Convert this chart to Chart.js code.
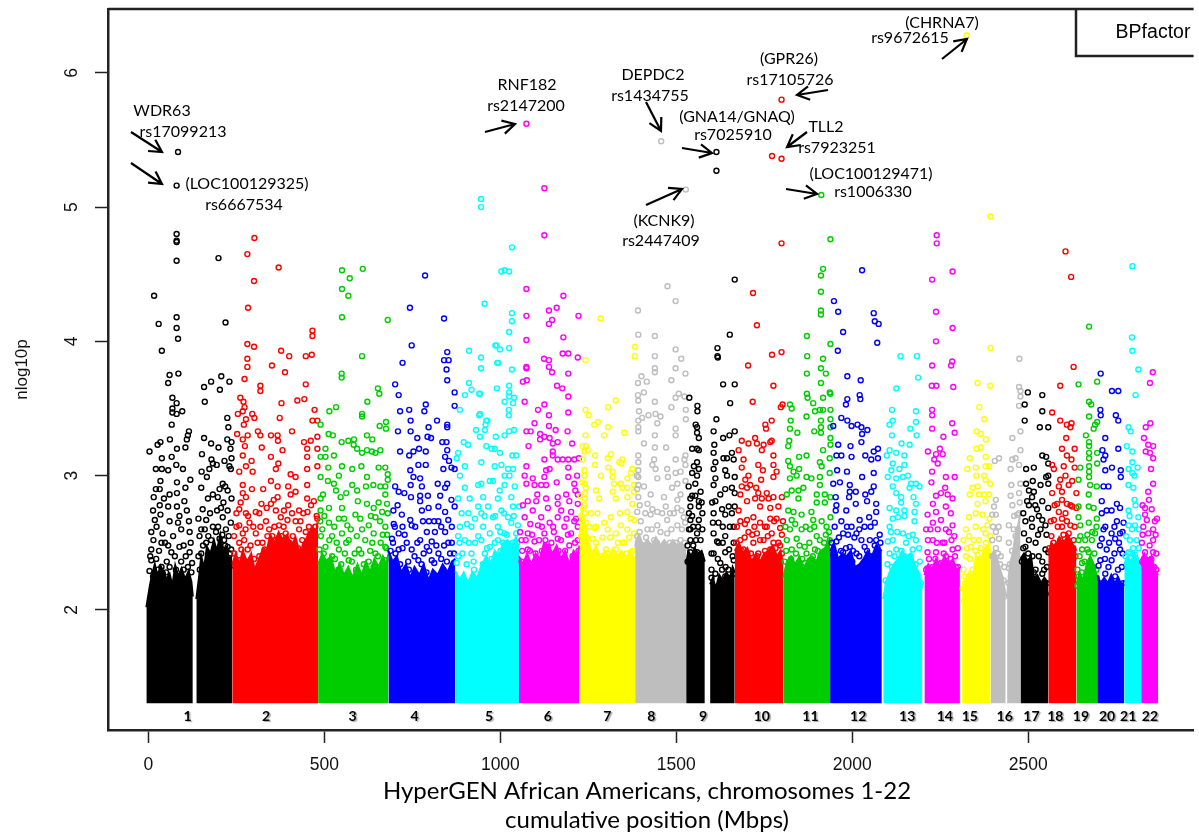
<!DOCTYPE html>
<html>
<head>
<meta charset="utf-8">
<title>HyperGEN BPfactor</title>
<script src="https://cdn.jsdelivr.net/npm/chart.js@4/dist/chart.umd.js"></script>
<style>
	html, body { margin: 0; padding: 0; background: #fff; overflow: hidden; }
	canvas { display: block; }
</style>
</head>
<body>
<canvas id="grafica" width="1199" height="836"></canvas>
<script>
var tickX = [0, 500, 1000, 1500, 2000, 2500];
var tickY = [2, 3, 4, 5, 6];
var chromNames = ["1","2","3","4","5","6","7","8","9","10","11","12","13","14","15","16","17","18","19","20","21","22"];
var chromCenters = [111,334,580,756,968,1135,1304,1429,1576,1743,1881,2017,2156,2263,2334,2433,2509,2577,2650,2724,2784,2846];
var chromColors = ["#000000","#ff0000","#00cd00","#0000ff","#00ffff","#ff00ff","#ffff00","#bebebe"];
var floorP = 1.305;

// solid lower mass of each chromosome: [position, height reached by the packed points]
var body1a = [[-6,2.02],[4,2.18],[10,2.26],[18,2.34],[26,2.25],[34,2.33],[42,2.29],[50,2.23],[60,2.27],[68,2.18],[76,2.33],[84,2.25],[94,2.31],[104,2.23],[114,2.29],[122,2.21],[126,2.1]];
var body1b = [[136,2.08],[144,2.25],[150,2.4],[158,2.31],[166,2.47],[176,2.42],[186,2.52],[194,2.44],[204,2.56],[212,2.44],[222,2.47],[230,2.37],[238,2.41]];
var body2 = [[238,2.34],[248,2.42],[258,2.34],[268,2.44],[280,2.36],[292,2.42],[302,2.3],[314,2.38],[326,2.46],[336,2.44],[346,2.56],[358,2.5],[370,2.58],[382,2.52],[394,2.56],[406,2.48],[418,2.54],[430,2.42],[442,2.5],[454,2.56],[466,2.62],[476,2.58],[482,2.68]];
var body3 = [[482,2.34],[494,2.42],[506,2.36],[518,2.4],[530,2.28],[544,2.34],[556,2.26],[568,2.32],[580,2.24],[594,2.34],[606,2.26],[618,2.36],[630,2.28],[642,2.38],[654,2.32],[666,2.4],[676,2.34],[682,2.42]];
var body4 = [[682,2.44],[694,2.36],[706,2.4],[718,2.28],[732,2.34],[744,2.24],[756,2.32],[770,2.26],[782,2.34],[796,2.22],[808,2.3],[822,2.26],[836,2.34],[850,2.28],[862,2.36],[872,2.38]];
var body5 = [[872,2.29],[884,2.22],[896,2.28],[908,2.2],[920,2.28],[934,2.24],[948,2.34],[960,2.4],[972,2.34],[984,2.44],[996,2.4],[1008,2.5],[1020,2.52],[1032,2.48],[1044,2.54],[1053,2.46]];
var body6 = [[1053,2.4],[1064,2.34],[1076,2.42],[1088,2.34],[1100,2.42],[1112,2.38],[1124,2.5],[1136,2.48],[1148,2.42],[1160,2.48],[1172,2.38],[1184,2.44],[1196,2.34],[1208,2.44],[1218,2.4],[1225,2.48]];
var body7 = [[1225,2.54],[1232,2.76],[1240,2.64],[1250,2.52],[1260,2.42],[1272,2.48],[1284,2.38],[1296,2.44],[1308,2.4],[1320,2.46],[1332,2.4],[1344,2.44],[1356,2.38],[1368,2.44],[1383,2.38]];
var body8 = [[1383,2.5],[1394,2.56],[1406,2.48],[1418,2.52],[1430,2.48],[1442,2.54],[1454,2.48],[1466,2.52],[1478,2.47],[1490,2.52],[1502,2.48],[1514,2.5],[1528,2.44]];
var body9a = [[1528,2.34],[1534,2.44],[1542,2.4],[1552,2.46],[1562,2.42],[1572,2.44],[1581,2.36]];
var body9b = [[1596,2.19],[1604,2.24],[1612,2.16],[1622,2.26],[1632,2.22],[1642,2.28],[1652,2.24],[1660,2.32],[1666,2.28]];
var body10 = [[1666,2.44],[1678,2.5],[1690,2.42],[1702,2.46],[1714,2.36],[1726,2.42],[1738,2.36],[1750,2.42],[1762,2.44],[1774,2.48],[1786,2.4],[1796,2.44],[1804,2.34]];
var body11 = [[1804,2.24],[1814,2.36],[1826,2.4],[1838,2.34],[1850,2.4],[1862,2.3],[1874,2.38],[1886,2.4],[1898,2.36],[1910,2.44],[1922,2.46],[1932,2.5],[1937,2.54]];
var body12 = [[1937,2.44],[1948,2.5],[1960,2.38],[1972,2.42],[1984,2.4],[1996,2.44],[2008,2.32],[2020,2.34],[2032,2.38],[2044,2.44],[2056,2.4],[2068,2.48],[2084,2.44]];
var body13 = [[2088,2.08],[2096,2.2],[2106,2.28],[2118,2.34],[2130,2.38],[2142,2.44],[2154,2.38],[2166,2.42],[2178,2.34],[2188,2.28],[2199,2.16]];
var body14 = [[2205,2.26],[2216,2.34],[2226,2.3],[2238,2.38],[2250,2.32],[2262,2.4],[2274,2.34],[2286,2.38],[2298,2.28],[2306,2.32]];
var body15 = [[2312,2.14],[2322,2.22],[2332,2.28],[2342,2.24],[2352,2.4],[2364,2.36],[2376,2.46],[2386,2.48],[2393,2.5]];
var body16a = [[2393,2.38],[2402,2.44],[2412,2.38],[2420,2.3],[2428,2.24],[2436,2.1]];
var body16b = [[2440,2.1],[2448,2.34],[2456,2.42],[2464,2.56],[2472,2.64],[2478,2.72]];
var body17 = [[2478,2.38],[2488,2.42],[2498,2.36],[2508,2.4],[2516,2.24],[2526,2.26],[2536,2.2],[2546,2.24],[2557,2.2]];
var body18 = [[2557,2.42],[2566,2.5],[2576,2.46],[2588,2.54],[2600,2.48],[2612,2.56],[2624,2.5],[2637,2.44]];
var body19 = [[2637,2.19],[2646,2.28],[2656,2.22],[2666,2.34],[2676,2.4],[2686,2.34],[2696,2.24]];
var body20 = [[2696,2.26],[2706,2.2],[2716,2.24],[2726,2.2],[2736,2.26],[2746,2.2],[2756,2.24],[2766,2.18],[2773,2.22]];
var body21 = [[2773,2.34],[2782,2.4],[2792,2.36],[2802,2.42],[2812,2.36],[2821,2.3]];
var body22 = [[2821,2.38],[2830,2.42],[2840,2.38],[2850,2.4],[2860,2.3],[2869,2.26]];

// individual SNPs: [position, nlog10p]
var chr1 = [[84,5.41],[80,5.16],[80,4.8],[80,4.75],[80,4.74],[80,4.6],[16,4.34],[29,4.13],[80,4.18],[80,4.1],[84,4.02],[38,3.93],[199,4.62],[219,4.14],
[60,3.75],[85,3.76],[56,3.69],[68,3.58],[80,3.54],[68,3.5],[96,3.48],[68,3.47],[80,3.46],[66,3.38],[115,3.33],[112,3.3],[61,3.27],[34,3.25],[26,3.23],[109,3.27],[105,3.21],[81,3.2],[3,3.18],[38,3.13],[66,3.14],[21,3.05],[38,3.05],[79,3.08],[56,3.04],[98,3.05],[119,2.97],[34,2.96],[81,2.95],[21,2.9],[32,2.9],[105,2.91],[81,2.87],[60,2.86],[15,2.84],[44,2.83],[102,2.81],[32,2.78],[56,2.77],[81,2.77],[109,2.74],[13,2.74],[34,2.71],[88,2.7],[18,2.67],[60,2.66],[115,2.66],[84,2.65],[23,2.62],[8,2.58],[40,2.57],[93,2.6],[117,2.58],[37,2.5],[8,2.45],[117,2.43],[88,2.47],[56,2.48],[65,2.43],[8,2.37],[37,2.32],[60,2.32],[93,2.36],[112,2.32],[3,2.29],[13,2.25],[41,2.27],
[160,3.55],[158,3.66],[178,3.7],[203,3.64],[207,3.74],[230,3.7],[224,3.43],[227,3.36],[158,3.28],[178,3.24],[199,3.21],[224,3.27],[236,3.25],[233,3.2],[152,3.16],[179,3.12],[183,3.09],[216,3.11],[236,3.13],[234,3.05],[230,3.07],[194,3.08],[173,3.05],[151,3.03],[166,2.99],[150,2.91],[211,2.94],[202,2.9],[183,2.86],[197,2.84],[225,2.89],[236,2.83],[169,2.83],[154,2.75],[206,2.76],[225,2.74],[164,2.67],[211,2.69],[234,2.65],[150,2.6],[183,2.62],[220,2.6],[164,2.5],[202,2.53],[225,2.47],[150,2.42],[187,2.45],[235,2.45],[173,2.38],[211,2.37],[234,2.33],
[5,2.4],[14,2.52],[22,2.38],[30,2.44],[47,2.5],[52,2.36],[70,2.55],[75,2.4],[100,2.48],[106,2.4],[120,2.5],[124,2.35],[27,2.3],[50,2.28],[78,2.3],[100,2.3],[122,2.28],[142,2.4],[145,2.55],[155,2.48],[160,2.6],[170,2.55],[178,2.52],[192,2.58],[198,2.62],[215,2.52],[218,2.48],[228,2.55],[232,2.42],[142,2.68],[175,2.72],[195,2.74],[213,2.8],[218,2.92],[146,2.3],[210,2.56]];
var chr2 = [[301,4.77],[281,4.65],[370,4.55],[300,4.45],[283,4.25],[466,4.08],[466,4.04],[281,3.98],[300,3.96],[377,3.93],[400,3.89],[447,3.89],[464,3.9],[281,3.87],[351,3.82],[281,3.81],
[273,3.72],[318,3.67],[318,3.63],[447,3.68],[388,3.77],[423,3.56],[443,3.57],[378,3.54],[261,3.58],[270,3.55],[273,3.51],[268,3.48],[254,3.46],[295,3.46],[301,3.43],[373,3.43],[472,3.49],[277,3.42],[466,3.41],[480,3.41],[271,3.38],[408,3.33],[252,3.31],[311,3.33],[318,3.3],[348,3.3],[367,3.3],[368,3.26],[282,3.3],[268,3.27],[442,3.25],[461,3.26],[480,3.29],[322,3.21],[274,3.22],[381,3.19],[451,3.2],[480,3.2],[348,3.14],[268,3.15],[451,3.14],[293,3.11],[369,3.09],[451,3.05],[277,3.07],[258,3.03],[296,3.03],[362,3.05],[480,3.07],[404,3.01],[418,2.99],[348,2.96],[268,2.93],[451,2.93],[326,2.9],[367,2.92],[397,2.92],[294,2.9],[268,2.87],[418,2.88],[367,2.84],[277,2.84],[404,2.86],[321,2.79],[348,2.79],[397,2.78],[451,2.83],[428,2.74],[258,2.75],[470,2.81],[362,2.74],[277,2.72],[305,2.73],[376,2.69],[452,2.73],[480,2.68],[334,2.66],[395,2.67],[418,2.66],[258,2.63],[287,2.65],[371,2.63],[456,2.62],[343,2.6],[428,2.6],[268,2.57],[305,2.57],[390,2.57],[466,2.57],[258,2.5],[324,2.5],[362,2.52],[437,2.52],[282,2.45],[315,2.4],[418,2.45],[258,2.37],[334,2.37],[451,2.4],
[243,2.55],[250,2.62],[264,2.45],[272,2.52],[276,2.6],[290,2.48],[298,2.62],[310,2.5],[318,2.62],[330,2.45],[338,2.55],[352,2.55],[358,2.62],[366,2.48],[378,2.55],[384,2.62],[400,2.5],[410,2.55],[425,2.46],[432,2.66],[444,2.48],[447,2.58],[460,2.5],[474,2.62],[478,2.7],[250,2.72],[262,2.8],[283,2.7],[315,2.72],[336,2.76],[356,2.82],[385,2.74],[408,2.72],[440,2.72],[462,2.78],[244,2.42],[300,2.38],[472,2.56],[290,2.36],[352,2.46]];
var chr3 = [[550,4.53],[609,4.54],[572,4.47],[550,4.39],[568,4.34],[550,4.18],[680,4.16],[607,3.89],
[549,3.76],[549,3.73],[652,3.65],[656,3.61],[622,3.55],[533,3.51],[514,3.48],[607,3.46],[607,3.44],[657,3.37],[675,3.4],[675,3.35],[489,3.38],[512,3.31],[524,3.3],[621,3.3],[636,3.27],[549,3.25],[568,3.26],[584,3.27],[583,3.23],[593,3.2],[659,3.19],[621,3.19],[607,3.17],[635,3.18],[645,3.17],[503,3.2],[489,3.14],[527,3.15],[503,3.14],[511,3.06],[550,3.07],[605,3.07],[579,3.05],[654,3.06],[673,3.06],[489,2.99],[541,3.0],[621,2.99],[680,3.01],[510,2.96],[680,2.97],[527,2.94],[579,2.93],[618,2.92],[639,2.93],[659,2.92],[673,2.92],[593,2.89],[533,2.89],[496,2.86],[546,2.84],[562,2.87],[673,2.86],[489,2.83],[595,2.81],[654,2.8],[678,2.79],[621,2.79],[550,2.76],[513,2.76],[640,2.76],[489,2.74],[664,2.73],[588,2.71],[541,2.68],[645,2.69],[680,2.72],[513,2.65],[565,2.63],[626,2.63],[673,2.62],[494,2.6],[550,2.57],[607,2.6],[640,2.57],[522,2.55],[569,2.52],[616,2.52],[673,2.47],[503,2.47],[541,2.45],[598,2.45],[645,2.42],[522,2.4],[569,2.37],[626,2.36],[673,2.37],
[486,2.45],[490,2.55],[498,2.42],[510,2.36],[514,2.52],[530,2.38],[535,2.5],[548,2.34],[558,2.42],[562,2.5],[578,2.36],[586,2.42],[592,2.55],[605,2.42],[612,2.34],[630,2.44],[636,2.5],[652,2.4],[660,2.5],[666,2.56],[676,2.46],[488,2.66],[500,2.7],[528,2.62],[556,2.68],[575,2.6],[602,2.68],[632,2.7],[658,2.66],[678,2.56],[498,2.32],[540,2.3],[590,2.3],[640,2.32]];
var chr4 = [[786,4.49],[743,4.25],[840,4.17],[748,3.97],[849,3.92],[840,3.86],[853,3.86],[722,3.84],[847,3.79],
[849,3.71],[701,3.68],[870,3.62],[711,3.6],[870,3.52],[741,3.49],[715,3.48],[788,3.53],[784,3.48],[745,3.41],[796,3.36],[820,3.41],[849,3.38],[849,3.36],[709,3.33],[745,3.33],[764,3.28],[793,3.29],[803,3.28],[835,3.25],[847,3.25],[715,3.18],[753,3.18],[769,3.2],[788,3.18],[741,3.15],[849,3.19],[843,3.14],[854,3.11],[767,3.08],[788,3.08],[861,3.06],[838,3.05],[870,3.05],[744,3.04],[753,2.99],[772,2.98],[745,2.93],[777,2.92],[822,2.94],[849,2.94],[701,2.92],[711,2.88],[727,2.87],[843,2.91],[829,2.85],[746,2.84],[772,2.85],[794,2.85],[861,2.82],[708,2.78],[772,2.81],[824,2.77],[870,2.77],[777,2.74],[796,2.76],[696,2.74],[843,2.73],[720,2.71],[744,2.67],[797,2.66],[697,2.64],[824,2.66],[852,2.67],[711,2.57],[748,2.63],[843,2.58],[791,2.58],[814,2.58],[734,2.5],[772,2.52],[805,2.51],[852,2.5],[692,2.53],[711,2.45],[748,2.45],[791,2.47],[824,2.42],[857,2.42],[767,2.37],[805,2.37],
[688,2.44],[695,2.5],[702,2.42],[715,2.34],[722,2.46],[728,2.56],[738,2.36],[756,2.4],[764,2.5],[776,2.34],[782,2.42],[798,2.44],[812,2.35],[818,2.48],[832,2.38],[840,2.48],[848,2.36],[862,2.5],[868,2.42],[700,2.62],[722,2.62],[758,2.62],[780,2.66],[812,2.66],[832,2.62],[862,2.62],[740,2.3],[790,2.28],[838,2.3]];
var chr5 = [[945,5.06],[945,5.0],[955,4.28],[911,3.93],[945,3.88],[986,3.97],[991,3.84],[945,3.8],[1033,4.7],[1003,4.52],[1012,4.53],[1025,4.52],[1033,4.21],[1033,4.15],[1025,4.07],[989,3.97],[999,3.94],[1025,3.95],[994,3.84],[1033,3.79],
[990,3.65],[1025,3.67],[1025,3.62],[1025,3.59],[1039,3.58],[1012,3.55],[1036,3.54],[1024,3.49],[1024,3.45],[942,3.61],[942,3.46],[963,3.41],[958,3.38],[956,3.34],[942,3.29],[987,3.29],[1012,3.3],[1025,3.33],[1039,3.34],[960,3.22],[975,3.2],[984,3.2],[999,3.17],[1034,3.15],[1045,3.15],[946,3.1],[984,3.07],[1003,3.08],[1022,3.05],[1036,3.05],[1012,3.0],[1026,3.0],[1041,2.92],[946,2.94],[979,2.96],[1012,2.93],[998,2.89],[951,2.84],[1031,2.84],[993,2.83],[965,2.77],[1036,2.77],[1003,2.74],[1053,2.77],[946,2.72],[979,2.69],[1022,2.69],[1050,2.63],[951,2.62],[993,2.62],[1031,2.65],[970,2.57],[1012,2.57],[1045,2.57],[946,2.52],[993,2.52],[1026,2.48],[970,2.47],
[911,3.69],[918,3.64],[940,3.61],[899,3.6],[885,3.49],[940,3.45],[960,3.41],[931,3.34],[896,3.25],[908,3.23],[880,3.17],[876,3.13],[899,3.07],[885,3.0],[899,2.91],[937,2.93],[970,2.96],[880,2.83],[913,2.83],[937,2.77],[909,2.72],[885,2.62],[918,2.62],[899,2.52],[937,2.55],[880,2.4],[918,2.42],[956,2.42],
[876,2.35],[884,2.5],[892,2.42],[904,2.34],[910,2.5],[924,2.36],[928,2.5],[950,2.34],[962,2.46],[975,2.38],[984,2.5],[1000,2.44],[1008,2.5],[1018,2.56],[1035,2.5],[1040,2.46],[1048,2.5],[890,2.72],[905,2.64],[928,2.68],[955,2.7],[985,2.7],[1010,2.72],[1038,2.7],[880,2.55],[1000,2.58],[925,2.3]];
var chr6 = [[1074,5.62],[1125,5.14],[1125,4.79],[1074,4.39],[1179,4.34],[1160,4.25],[1138,4.23],[1074,4.19],[1222,4.19],[1147,4.16],[1138,4.13],[1074,4.01],[1179,4.03],[1177,3.91],[1193,3.91],[1220,3.88],[1124,3.87],[1138,3.86],[1074,3.81],[1074,3.8],[1138,3.81],
[1147,3.77],[1193,3.76],[1064,3.7],[1075,3.71],[1161,3.67],[1176,3.65],[1193,3.59],[1069,3.55],[1125,3.53],[1107,3.49],[1193,3.47],[1138,3.45],[1097,3.39],[1138,3.37],[1157,3.34],[1074,3.33],[1086,3.33],[1191,3.33],[1113,3.31],[1125,3.29],[1140,3.28],[1113,3.27],[1149,3.24],[1163,3.25],[1204,3.24],[1080,3.22],[1149,3.18],[1149,3.15],[1125,3.12],[1223,3.13],[1163,3.12],[1177,3.12],[1193,3.12],[1210,3.12],[1074,3.07],[1193,3.06],[1130,3.04],[1140,3.05],[1069,3.0],[1092,2.98],[1125,2.99],[1218,3.0],[1193,2.99],[1160,2.95],[1074,2.94],[1097,2.93],[1116,2.93],[1130,2.93],[1210,2.94],[1213,2.89],[1220,2.86],[1105,2.86],[1163,2.84],[1187,2.86],[1130,2.83],[1078,2.81],[1102,2.81],[1196,2.81],[1163,2.79],[1220,2.79],[1064,2.78],[1092,2.74],[1135,2.76],[1173,2.74],[1201,2.73],[1069,2.69],[1116,2.69],[1163,2.69],[1215,2.68],[1107,2.63],[1140,2.65],[1182,2.62],[1220,2.62],[1078,2.57],[1125,2.57],[1201,2.57],[1163,2.53],[1060,2.52],[1097,2.51],[1220,2.52],[1196,2.48],[1135,2.47],[1078,2.45],
[1056,2.58],[1062,2.44],[1072,2.52],[1084,2.44],[1090,2.56],[1100,2.42],[1110,2.52],[1118,2.44],[1128,2.52],[1145,2.5],[1152,2.58],[1165,2.44],[1172,2.52],[1184,2.44],[1192,2.56],[1205,2.4],[1212,2.5],[1222,2.44],[1085,2.64],[1118,2.62],[1150,2.62],[1188,2.68],[1210,2.66],[1060,2.36],[1115,2.36],[1175,2.36]];
var chr7 = [[1285,4.17],[1383,3.96],[1382,3.89],[1242,3.86],[1242,3.49],[1251,3.45],[1306,3.51],[1328,3.56],[1277,3.4],[1267,3.38],[1306,3.36],[1352,3.32],[1295,3.3],[1242,3.3],[1234,3.22],[1243,3.22],[1239,3.18],[1248,3.19],[1314,3.16],[1269,3.15],[1305,3.13],[1347,3.12],[1338,3.1],[1234,3.12],[1269,3.08],[1344,3.09],[1306,3.06],[1375,3.05],[1239,3.04],[1319,3.03],[1239,3.0],[1371,3.02],[1286,3.0],[1319,2.99],[1361,2.98],[1240,2.94],[1342,2.94],[1323,2.94],[1380,2.93],[1243,2.91],[1361,2.91],[1347,2.91],[1272,2.89],[1240,2.87],[1319,2.88],[1380,2.88],[1328,2.83],[1281,2.83],[1361,2.84],[1240,2.83],[1375,2.79],[1239,2.78],[1257,2.72],[1276,2.72],[1314,2.69],[1361,2.73],[1239,2.72],[1380,2.67],[1295,2.65],[1342,2.63],[1243,2.65],[1267,2.61],[1361,2.6],[1328,2.57],[1239,2.57],[1380,2.57],[1262,2.53],[1347,2.5],[1234,2.5],[1328,2.45],[1371,2.43],[1300,2.45],[1257,2.4],[1352,2.37],
[1230,2.7],[1236,2.62],[1246,2.54],[1252,2.62],[1262,2.42],[1272,2.5],[1284,2.4],[1290,2.54],[1303,2.42],[1312,2.54],[1322,2.42],[1334,2.5],[1338,2.4],[1352,2.5],[1358,2.42],[1366,2.54],[1376,2.44],[1230,2.55],[1228,2.85],[1232,2.95],[1236,2.76],[1272,2.62],[1305,2.6],[1340,2.72],[1370,2.68],[1295,2.36]];
var chr8 = [[1457,5.49],[1527,5.13],[1475,4.41],[1498,4.3],[1391,4.23],[1392,4.05],[1439,4.04],[1498,3.94],[1439,3.89],[1514,3.87],[1439,3.8],[1498,3.8],
[1401,3.74],[1391,3.69],[1416,3.7],[1439,3.77],[1486,3.71],[1526,3.76],[1391,3.6],[1408,3.62],[1392,3.56],[1507,3.61],[1498,3.58],[1523,3.59],[1439,3.55],[1486,3.51],[1527,3.49],[1394,3.48],[1421,3.45],[1441,3.46],[1455,3.44],[1527,3.42],[1392,3.41],[1403,3.43],[1446,3.39],[1392,3.36],[1392,3.33],[1498,3.35],[1498,3.3],[1439,3.3],[1408,3.24],[1439,3.21],[1471,3.21],[1392,3.15],[1392,3.1],[1437,3.12],[1498,3.12],[1526,3.15],[1523,3.12],[1432,3.08],[1526,3.08],[1441,3.05],[1392,3.04],[1474,3.05],[1498,3.02],[1512,3.03],[1392,2.99],[1446,2.98],[1476,2.99],[1526,2.96],[1392,2.93],[1503,2.94],[1408,2.92],[1488,2.91],[1512,2.86],[1427,2.86],[1392,2.84],[1465,2.84],[1503,2.82],[1418,2.79],[1470,2.77],[1503,2.76],[1446,2.73],[1389,2.73],[1493,2.72],[1427,2.71],[1521,2.69],[1474,2.67],[1399,2.66],[1446,2.63],[1503,2.63],[1418,2.6],[1474,2.57],[1389,2.55],[1437,2.52],[1512,2.52],[1399,2.45],[1470,2.46],[1446,2.42],[1503,2.42],
[1390,2.48],[1396,2.58],[1408,2.48],[1414,2.54],[1426,2.45],[1430,2.6],[1445,2.5],[1455,2.58],[1462,2.45],[1482,2.5],[1486,2.6],[1498,2.5],[1510,2.46],[1516,2.6],[1524,2.5],[1389,2.9],[1388,3.0],[1396,2.78],[1412,2.72],[1432,2.75],[1460,2.72],[1482,2.72],[1515,2.74],[1525,2.65]];
var chr9 = [[1614,5.41],[1614,5.27],[1666,4.46],[1652,4.05],[1617,3.95],[1617,3.89],[1618,3.88],[1633,3.68],[1666,3.68],[1653,3.54],[1537,3.58],[1560,3.52],[1560,3.48],[1614,3.42],[1555,3.38],[1559,3.36],[1559,3.32],[1564,3.28],[1606,3.33],[1666,3.33],[1633,3.28],[1651,3.3],[1608,3.23],[1545,3.2],[1559,3.2],[1564,3.19],[1606,3.17],[1658,3.17],[1634,3.13],[1644,3.13],[1663,3.12],[1611,3.1],[1559,3.1],[1550,3.07],[1564,3.05],[1606,3.05],[1639,3.04],[1545,3.02],[1559,3.0],[1611,2.98],[1644,3.0],[1666,2.99],[1535,2.92],[1554,2.94],[1606,2.93],[1639,2.9],[1658,2.91],[1569,2.88],[1540,2.83],[1554,2.85],[1625,2.86],[1666,2.87],[1564,2.81],[1611,2.81],[1649,2.77],[1540,2.77],[1564,2.77],[1606,2.72],[1666,2.77],[1639,2.71],[1540,2.67],[1564,2.67],[1620,2.65],[1663,2.62],[1540,2.6],[1559,2.57],[1606,2.57],[1639,2.55],[1540,2.52],[1569,2.52],[1616,2.51],[1663,2.5],[1540,2.43],[1559,2.43],[1606,2.42],[1639,2.43],[1625,2.35],[1663,2.37],[1550,2.37],[1611,2.27],[1639,2.25],[1663,2.27],
[1532,2.36],[1532,2.48],[1536,2.6],[1536,2.72],[1545,2.7],[1548,2.62],[1548,2.48],[1556,2.52],[1562,2.62],[1570,2.4],[1574,2.6],[1574,2.72],[1545,2.85],[1572,2.8],[1600,2.3],[1600,2.42],[1604,2.65],[1618,2.38],[1620,2.5],[1630,2.3],[1632,2.5],[1632,2.62],[1648,2.3],[1650,2.45],[1652,2.62],[1660,2.4],[1602,2.8],[1630,2.75],[1658,2.72],[1640,2.32],[1600,2.24],[1655,2.18]];
var chr10 = [[1799,5.8],[1772,5.38],[1799,5.36],[1799,4.73],[1718,4.36],[1729,4.12],[1799,3.92],[1772,3.9],[1704,3.82],
[1776,3.67],[1717,3.55],[1797,3.51],[1802,3.53],[1771,3.41],[1755,3.35],[1753,3.38],[1677,3.19],[1686,3.26],[1705,3.24],[1724,3.28],[1729,3.24],[1748,3.23],[1771,3.26],[1767,3.25],[1743,3.19],[1691,3.12],[1776,3.15],[1686,3.06],[1733,3.08],[1746,3.04],[1776,3.08],[1785,3.03],[1705,3.0],[1696,2.97],[1741,2.97],[1710,2.93],[1686,2.92],[1776,2.99],[1701,2.91],[1727,2.91],[1733,2.87],[1757,2.87],[1776,2.84],[1800,2.84],[1724,2.83],[1743,2.83],[1762,2.83],[1682,2.86],[1701,2.81],[1738,2.77],[1767,2.76],[1790,2.77],[1677,2.74],[1719,2.69],[1682,2.66],[1701,2.67],[1738,2.65],[1767,2.68],[1785,2.68],[1803,2.66],[1757,2.62],[1705,2.58],[1729,2.57],[1771,2.57],[1795,2.61],[1682,2.52],[1748,2.52],[1790,2.5],[1719,2.5],[1691,2.45],[1767,2.45],[1733,2.42],
[1670,2.5],[1675,2.42],[1686,2.44],[1694,2.54],[1702,2.42],[1712,2.42],[1716,2.56],[1730,2.4],[1738,2.52],[1752,2.44],[1760,2.55],[1776,2.5],[1782,2.46],[1795,2.48],[1800,2.42],[1672,2.62],[1695,2.64],[1722,2.62],[1752,2.62],[1778,2.66],[1800,2.56],[1735,2.35]];
var chr11 = [[1912,5.09],[1938,4.76],[1917,4.54],[1911,4.49],[1911,4.37],[1911,4.23],[1911,4.2],[1871,4.04],[1938,3.98],[1872,3.89],[1917,3.87],[1911,3.8],[1871,3.76],[1925,3.76],[1911,3.69],[1871,3.61],[1873,3.58],[1936,3.62],[1938,3.61],[1889,3.54],[1917,3.58],[1823,3.53],[1828,3.5],[1908,3.49],[1917,3.49],[1894,3.48],[1938,3.49],[1870,3.44],[1825,3.41],[1911,3.41],[1938,3.42],[1911,3.36],[1823,3.35],[1844,3.32],[1892,3.33],[1911,3.32],[1938,3.36],[1938,3.28],[1821,3.26],[1818,3.22],[1917,3.19],[1849,3.14],[1870,3.15],[1938,3.23],[1818,3.11],[1908,3.1],[1936,3.13],[1823,3.07],[1849,3.05],[1833,3.03],[1913,3.07],[1842,3.0],[1823,2.98],[1870,2.99],[1884,2.98],[1908,2.99],[1936,3.02],[1908,2.93],[1847,2.89],[1828,2.89],[1814,2.86],[1861,2.91],[1899,2.86],[1922,2.86],[1938,2.84],[1899,2.8],[1922,2.8],[1847,2.83],[1818,2.74],[1833,2.73],[1856,2.71],[1884,2.73],[1938,2.69],[1889,2.67],[1828,2.67],[1913,2.66],[1856,2.6],[1823,2.6],[1880,2.6],[1927,2.62],[1814,2.52],[1842,2.53],[1899,2.55],[1936,2.52],[1865,2.47],[1828,2.45],[1894,2.45],[1851,2.35],[1917,2.41],
[1808,2.36],[1812,2.44],[1820,2.3],[1826,2.38],[1840,2.42],[1850,2.48],[1858,2.38],[1870,2.42],[1878,2.5],[1888,2.4],[1902,2.44],[1908,2.52],[1920,2.5],[1928,2.44],[1934,2.58],[1810,2.62],[1838,2.64],[1868,2.62],[1892,2.62],[1925,2.56],[1866,2.35],[1910,2.4],[1842,2.3]];
var chr12 = [[2028,4.53],[1948,4.3],[1960,4.22],[2061,4.21],[2064,4.15],[2075,4.13],[1974,4.07],[2071,3.99],[1959,3.93],
[1986,3.74],[2024,3.71],[1986,3.57],[1982,3.53],[2021,3.6],[2023,3.57],[1969,3.43],[1986,3.41],[1998,3.37],[2015,3.38],[2026,3.36],[2043,3.34],[2028,3.31],[1946,3.37],[2026,3.25],[1960,3.23],[1995,3.22],[2073,3.2],[2061,3.18],[2037,3.15],[1955,3.15],[1969,3.15],[1998,3.14],[2073,3.13],[2054,3.12],[1957,3.04],[1985,3.03],[2061,3.02],[2028,2.99],[1946,2.94],[1965,2.95],[1993,2.93],[2061,2.92],[2054,2.88],[1993,2.88],[2010,2.88],[2037,2.86],[1953,2.84],[1991,2.84],[2042,2.81],[2010,2.79],[2068,2.79],[1955,2.78],[2068,2.73],[1953,2.74],[2048,2.69],[1983,2.74],[2021,2.67],[1969,2.66],[2064,2.65],[1998,2.62],[2035,2.62],[1974,2.57],[2012,2.57],[2068,2.52],[1955,2.51],[1993,2.47],[2035,2.47],[2064,2.48],[1974,2.43],[2012,2.42],[1946,2.41],
[1942,2.5],[1950,2.42],[1962,2.54],[1968,2.44],[1982,2.46],[1988,2.56],[2002,2.44],[2006,2.54],[2020,2.4],[2026,2.52],[2042,2.44],[2050,2.52],[2058,2.4],[2072,2.46],[2080,2.5],[1950,2.62],[1985,2.62],[2020,2.6],[2052,2.62],[2078,2.56],[2000,2.36],[2030,2.32]];
var chr13 = [[2137,3.89],[2184,3.89],[2125,3.65],[2187,3.73],[2113,3.49],[2181,3.48],[2106,3.38],[2115,3.41],[2181,3.4],[2165,3.35],[2113,3.3],[2183,3.3],[2140,3.24],[2163,3.23],[2106,3.19],[2125,3.17],[2098,3.15],[2148,3.15],[2115,3.09],[2148,3.08],[2111,3.04],[2134,3.05],[2101,2.99],[2125,2.98],[2144,2.99],[2158,3.0],[2167,2.94],[2181,2.94],[2191,2.92],[2115,2.92],[2163,2.91],[2125,2.87],[2139,2.84],[2174,2.84],[2139,2.8],[2181,2.79],[2106,2.76],[2125,2.74],[2148,2.74],[2177,2.73],[2148,2.7],[2115,2.68],[2130,2.69],[2177,2.66],[2106,2.62],[2144,2.57],[2172,2.56],[2181,2.52],[2115,2.52],[2101,2.51],[2153,2.5],[2125,2.45],[2172,2.45],[2106,2.42],[2148,2.4],
[2095,2.22],[2100,2.34],[2112,2.32],[2120,2.4],[2134,2.36],[2140,2.44],[2158,2.36],[2166,2.4],[2180,2.34],[2186,2.26],[2192,2.36],[2110,2.58],[2128,2.58],[2160,2.55],[2190,2.46],[2100,2.2],[2195,2.2]];
var chr14 = [[2240,4.79],[2240,4.73],[2285,4.52],[2227,4.46],[2238,4.22],[2285,4.1],[2238,4.0],[2227,3.82],[2284,3.85],[2281,3.82],[2226,3.67],[2239,3.67],[2287,3.66],[2227,3.49],[2227,3.45],[2227,3.35],[2284,3.39],[2291,3.32],[2259,3.29],[2215,3.18],[2249,3.2],[2257,3.16],[2238,3.16],[2233,3.12],[2243,3.09],[2227,3.03],[2266,2.99],[2291,2.99],[2225,2.95],[2264,2.91],[2252,2.87],[2238,2.85],[2271,2.86],[2285,2.83],[2229,2.79],[2266,2.77],[2214,2.71],[2238,2.73],[2280,2.72],[2252,2.67],[2229,2.65],[2285,2.63],[2210,2.6],[2243,2.6],[2266,2.6],[2229,2.52],[2290,2.55],[2257,2.5],[2214,2.43],[2285,2.45],[2238,2.43],[2266,2.4],[2214,2.31],[2252,2.35],[2294,2.32],
[2210,2.3],[2218,2.38],[2228,2.32],[2236,2.38],[2246,2.34],[2260,2.42],[2272,2.34],[2280,2.38],[2292,2.4],[2300,2.32],[2215,2.52],[2240,2.5],[2262,2.5],[2282,2.52],[2300,2.46],[2222,2.6],[2275,2.58]];
var chr15 = [[2325,6.28],[2393,4.93],[2393,3.95],[2356,3.69],[2392,3.67],[2361,3.51],[2375,3.42],[2353,3.33],[2365,3.31],[2380,3.27],[2353,3.2],[2365,3.21],[2334,3.13],[2379,3.14],[2327,3.05],[2351,3.06],[2379,3.07],[2389,3.07],[2353,3.0],[2375,3.0],[2379,2.97],[2342,2.91],[2356,2.92],[2392,2.94],[2334,2.86],[2360,2.86],[2375,2.86],[2389,2.86],[2356,2.79],[2379,2.81],[2351,2.72],[2370,2.71],[2332,2.69],[2384,2.63],[2351,2.62],[2323,2.6],[2332,2.55],[2379,2.57],[2360,2.52],[2337,2.47],[2384,2.45],[2323,2.4],[2356,2.41],[2318,2.25],[2332,2.25],[2318,2.07],
[2316,2.3],[2320,2.2],[2326,2.46],[2335,2.38],[2342,2.3],[2350,2.44],[2365,2.46],[2368,2.38],[2380,2.5],[2388,2.42],[2392,2.55],[2316,2.52],[2345,2.52],[2372,2.6],[2390,2.68],[2314,2.16],[2340,2.22]];
var chr16 = [[2475,3.87],[2474,3.66],[2478,3.63],[2478,3.59],[2474,3.52],[2478,3.33],[2455,3.28],[2478,3.19],[2464,3.13],[2405,3.11],[2417,3.13],[2455,3.12],[2450,3.05],[2474,3.08],[2452,2.93],[2478,2.94],[2450,2.85],[2474,2.87],[2455,2.78],[2408,2.82],[2403,2.77],[2398,2.71],[2408,2.71],[2445,2.63],[2469,2.71],[2459,2.6],[2408,2.58],[2398,2.52],[2417,2.53],[2445,2.5],[2464,2.55],[2408,2.46],[2422,2.4],[2445,2.31],
[2398,2.4],[2405,2.36],[2414,2.42],[2420,2.34],[2430,2.22],[2432,2.32],[2400,2.62],[2416,2.62],[2444,2.2],[2448,2.34],[2454,2.44],[2462,2.42],[2470,2.6],[2474,2.72],[2476,2.8],[2460,2.7],[2432,2.1]];
var chr17 = [[2499,3.62],[2540,3.6],[2490,3.53],[2540,3.48],[2490,3.41],[2533,3.36],[2557,3.36],[2540,3.15],[2551,3.14],[2516,3.06],[2494,3.05],[2557,3.09],[2551,2.99],[2557,3.0],[2494,2.94],[2513,2.96],[2535,2.93],[2557,2.94],[2502,2.89],[2516,2.88],[2511,2.84],[2540,2.81],[2497,2.81],[2502,2.78],[2525,2.75],[2557,2.76],[2540,2.67],[2492,2.66],[2511,2.62],[2549,2.63],[2488,2.57],[2535,2.6],[2502,2.52],[2521,2.5],[2549,2.45],[2492,2.47],[2557,2.43],[2502,2.36],[2540,2.36],[2521,2.3],[2540,2.27],[2554,2.2],[2540,2.15],
[2482,2.36],[2486,2.46],[2492,2.36],[2500,2.42],[2512,2.4],[2516,2.28],[2526,2.22],[2530,2.4],[2536,2.18],[2545,2.3],[2550,2.12],[2553,2.32],[2510,2.68],[2530,2.7],[2552,2.56],[2528,2.56],[2520,2.78],[2486,2.72]];
var chr18 = [[2606,4.67],[2622,4.48],[2629,3.81],[2591,3.67],[2568,3.47],[2591,3.41],[2610,3.38],[2623,3.39],[2620,3.36],[2608,3.28],[2596,3.2],[2632,3.2],[2610,3.15],[2623,3.12],[2601,3.07],[2568,3.08],[2632,3.06],[2573,3.05],[2606,3.0],[2591,2.97],[2625,2.96],[2615,2.93],[2587,2.92],[2568,2.87],[2637,2.87],[2596,2.88],[2596,2.82],[2610,2.79],[2582,2.79],[2625,2.77],[2587,2.73],[2637,2.76],[2606,2.72],[2573,2.67],[2596,2.68],[2620,2.63],[2596,2.62],[2615,2.57],[2591,2.52],[2629,2.52],[2606,2.5],[2577,2.43],[2625,2.43],
[2560,2.46],[2566,2.55],[2572,2.5],[2582,2.48],[2590,2.44],[2598,2.5],[2610,2.5],[2618,2.45],[2628,2.46],[2634,2.4],[2564,2.66],[2584,2.62],[2610,2.66],[2632,2.62],[2575,2.78],[2620,2.78],[2600,2.56]];
var chr19 = [[2673,4.11],[2643,3.68],[2696,3.7],[2673,3.55],[2679,3.53],[2673,3.44],[2696,3.4],[2690,3.38],[2686,3.35],[2664,3.3],[2673,3.25],[2673,3.22],[2673,3.17],[2673,3.13],[2696,3.17],[2648,3.06],[2696,3.09],[2673,3.07],[2673,3.03],[2643,2.97],[2673,2.99],[2676,2.93],[2695,2.92],[2672,2.86],[2672,2.77],[2686,2.76],[2643,2.77],[2643,2.69],[2695,2.68],[2648,2.63],[2672,2.65],[2690,2.57],[2643,2.52],[2662,2.52],[2681,2.52],[2653,2.45],[2672,2.43],[2686,2.32],[2653,2.35],[2681,2.27],[2643,2.25],[2662,2.22],
[2640,2.3],[2646,2.4],[2652,2.28],[2660,2.36],[2668,2.45],[2676,2.36],[2688,2.42],[2694,2.3],[2648,2.55],[2668,2.56],[2682,2.58],[2694,2.62],[2640,2.18],[2695,2.24]];
var chr20 = [[2706,3.76],[2738,3.63],[2756,3.63],[2705,3.49],[2706,3.45],[2749,3.45],[2756,3.41],[2719,3.28],[2756,3.2],[2711,3.19],[2719,3.15],[2714,3.12],[2738,3.06],[2763,3.04],[2763,2.99],[2719,3.04],[2714,2.92],[2728,2.92],[2709,2.81],[2752,2.79],[2723,2.74],[2737,2.74],[2761,2.76],[2709,2.72],[2752,2.66],[2771,2.65],[2719,2.62],[2737,2.57],[2761,2.57],[2709,2.53],[2747,2.53],[2723,2.45],[2761,2.45],[2705,2.37],[2737,2.37],[2766,2.32],[2719,2.27],[2747,2.25],[2709,2.17],[2733,2.2],
[2700,2.33],[2704,2.48],[2712,2.2],[2718,2.38],[2728,2.32],[2730,2.5],[2742,2.18],[2745,2.42],[2755,2.3],[2758,2.5],[2768,2.42],[2770,2.2],[2714,2.6],[2745,2.62],[2768,2.58],[2732,2.18],[2755,2.16]];
var chr21 = [[2796,4.56],[2795,4.03],[2796,3.93],[2813,3.79],[2805,3.6],[2785,3.36],[2791,3.33],[2780,3.22],[2796,3.18],[2796,3.1],[2811,3.06],[2785,3.05],[2796,3.02],[2802,3.0],[2785,2.93],[2799,2.91],[2802,2.82],[2785,2.74],[2805,2.78],[2813,2.69],[2785,2.63],[2803,2.63],[2789,2.52],[2808,2.52],[2785,2.43],[2803,2.41],
[2776,2.4],[2782,2.34],[2790,2.42],[2798,2.46],[2806,2.38],[2814,2.46],[2816,2.34],[2778,2.55],[2795,2.6],[2814,2.6],[2788,2.7]];
var chr22 = [[2854,3.77],[2846,3.69],[2834,3.36],[2847,3.39],[2829,3.28],[2841,3.23],[2855,3.22],[2834,3.18],[2846,3.17],[2855,3.13],[2849,3.05],[2855,2.94],[2841,2.88],[2843,2.82],[2832,2.76],[2851,2.75],[2832,2.71],[2837,2.67],[2860,2.66],[2855,2.6],[2827,2.62],[2841,2.57],[2823,2.5],[2855,2.52],[2832,2.43],[2855,2.43],[2827,2.35],[2846,2.35],[2841,2.3],
[2824,2.36],[2830,2.38],[2838,2.36],[2850,2.38],[2858,2.32],[2864,2.3],[2864,2.42],[2825,2.56],[2862,2.56],[2845,2.48],[2866,2.68],[2825,2.78]];

var chromBodies = [[body1a,body1b],[body2],[body3],[body4],[body5],[body6],[body7],[body8],[body9a,body9b],[body10],[body11],[body12],[body13],[body14],[body15],[body16a,body16b],[body17],[body18],[body19],[body20],[body21],[body22]];
var chromPoints = [chr1,chr2,chr3,chr4,chr5,chr6,chr7,chr8,chr9,chr10,chr11,chr12,chr13,chr14,chr15,chr16,chr17,chr18,chr19,chr20,chr21,chr22];

// hand placed labels and arrows over the plot, in page pixels
var notes = [
	["WDR63",162,111],["rs17099213",183,132],["(LOC100129325)",247,184],["rs6667534",244,205],
	["RNF182",527,85],["rs2147200",526,106],["DEPDC2",653,75],["rs1434755",650,96],
	["(GNA14/GNAQ)",737,117],["rs7025910",733,135],["(GPR26)",789,59],["rs17105726",790,80],
	["TLL2",826,127],["rs7923251",837,148],["(LOC100129471)",871,174],["rs1006330",873,192],
	["(KCNK9)",664,221],["rs2447409",661,241],["(CHRNA7)",942,23],["rs9672615",910,38]
];
var arrows = [
	[131,132,162,152],[131,163,162,184],[485,132,515,124],[646,102,661,131],[682,148,712,153],
	[646,205,682,189],[828,90,797,95],[807,132,787,147],[786,189,817,194],[942,59,967,39]
];

function toXY(list) {
	return list.map(function(p) { return {x: p[0], y: p[1]}; });
}

var datasets = [];
chromPoints.forEach(function(points, i) {
	var color = chromColors[i % chromColors.length];
	chromBodies[i].forEach(function(body) {
		datasets.push({
			data: toXY(body),
			showLine: true,
			fill: {value: floorP},
			backgroundColor: color,
			borderColor: color,
			borderWidth: 2,
			pointRadius: 0
		});
	});
	datasets.push({
		data: toXY(points),
		showLine: false,
		backgroundColor: "rgba(0,0,0,0)",
		borderColor: color,
		borderWidth: 1.4,
		pointRadius: 2.5
	});
});
datasets.reverse();	// chart.js paints the first dataset last

var overlay = {
	id: "overlay",
	afterDraw: function(chart) {
		var ctx = chart.ctx;
		var area = chart.chartArea;
		var x = chart.scales.x;
		ctx.save();
		ctx.strokeStyle = "#222";
		ctx.lineWidth = 2.5;
		ctx.beginPath();
		ctx.moveTo(area.left, area.top);
		ctx.lineTo(area.right, area.top);
		ctx.moveTo(1076, area.top);
		ctx.lineTo(1076, 56);
		ctx.lineTo(area.right, 56);
		ctx.stroke();

		ctx.fillStyle = "#000";
		ctx.textAlign = "center";
		ctx.textBaseline = "middle";
		ctx.font = "19.5px 'Liberation Sans'";
		ctx.fillText("BPfactor", 1153, 33);

		ctx.font = "16px Lato";
		notes.forEach(function(n) {
			ctx.fillText(n[0], n[1], n[2]);
		});

		ctx.lineWidth = 2.2;
		ctx.strokeStyle = "#000";
		arrows.forEach(function(a) {
			var ang = Math.atan2(a[3] - a[1], a[2] - a[0]);
			ctx.beginPath();
			ctx.moveTo(a[0], a[1]);
			ctx.lineTo(a[2], a[3]);
			ctx.moveTo(a[2] - 14 * Math.cos(ang - 0.5), a[3] - 14 * Math.sin(ang - 0.5));
			ctx.lineTo(a[2], a[3]);
			ctx.lineTo(a[2] - 14 * Math.cos(ang + 0.5), a[3] - 14 * Math.sin(ang + 0.5));
			ctx.stroke();
		});

		ctx.font = "24px Lato";
		ctx.fillText("HyperGEN African Americans, chromosomes 1-22", 647, 791);
		ctx.fillText("cumulative position (Mbps)", 647, 820);

		ctx.font = "bold 14px Lato";
		ctx.shadowColor = "rgba(0,0,0,0.35)";
		ctx.shadowOffsetX = 1.5;
		ctx.shadowOffsetY = 1;
		ctx.shadowBlur = 1;
		chromNames.forEach(function(name, i) {
			ctx.fillText(name, x.getPixelForValue(chromCenters[i]), 716);
		});
		ctx.restore();
	}
};

var grafica = new Chart(document.getElementById("grafica"), {
	type: "scatter",
	data: {datasets: datasets},
	plugins: [overlay],
	options: {
		responsive: false,
		animation: false,
		layout: {padding: {top: 9, right: 0, bottom: 0, left: 0}},
		plugins: {legend: {display: false}, tooltip: {enabled: false}},
		scales: {
			x: {
				type: "linear",
				min: -115,
				max: 2970,
				afterFit: function(scale) {
					scale.height = 106;
					scale.paddingLeft = 0;
					scale.paddingRight = 0;
				},
				afterBuildTicks: function(scale) {
					scale.ticks = tickX.map(function(v) { return {value: v}; });
				},
				border: {display: true, color: "#222", width: 2.5},
				grid: {drawOnChartArea: false, drawTicks: true, tickLength: 13, tickColor: "#222", tickWidth: 1.5},
				ticks: {
					autoSkip: false,
					maxRotation: 0,
					color: "#111",
					padding: 12,
					font: {family: "'Liberation Sans'", size: 17.5},
					callback: function(v) { return String(v); }
				}
			},
			y: {
				type: "linear",
				min: 1.106,
				max: 6.475,
				afterFit: function(scale) {
					scale.width = 108;
					scale.paddingTop = 0;
					scale.paddingBottom = 0;
				},
				afterBuildTicks: function(scale) {
					scale.ticks = tickY.map(function(v) { return {value: v}; });
				},
				border: {display: true, color: "#222", width: 2.5},
				grid: {drawOnChartArea: false, drawTicks: true, tickLength: 13, tickColor: "#222", tickWidth: 1.5},
				title: {
					display: true,
					text: "nlog10p",
					color: "#111",
					font: {family: "'Liberation Sans'", size: 17},
					padding: {top: 12, bottom: 0}
				},
				ticks: {
					autoSkip: false,
					minRotation: 90,
					maxRotation: 90,
					crossAlign: "center",
					color: "#111",
					padding: 18,
					font: {family: "'Liberation Sans'", size: 17.5},
					callback: function(v) { return String(v); }
				}
			}
		}
	}
});
</script>
</body>
</html>
